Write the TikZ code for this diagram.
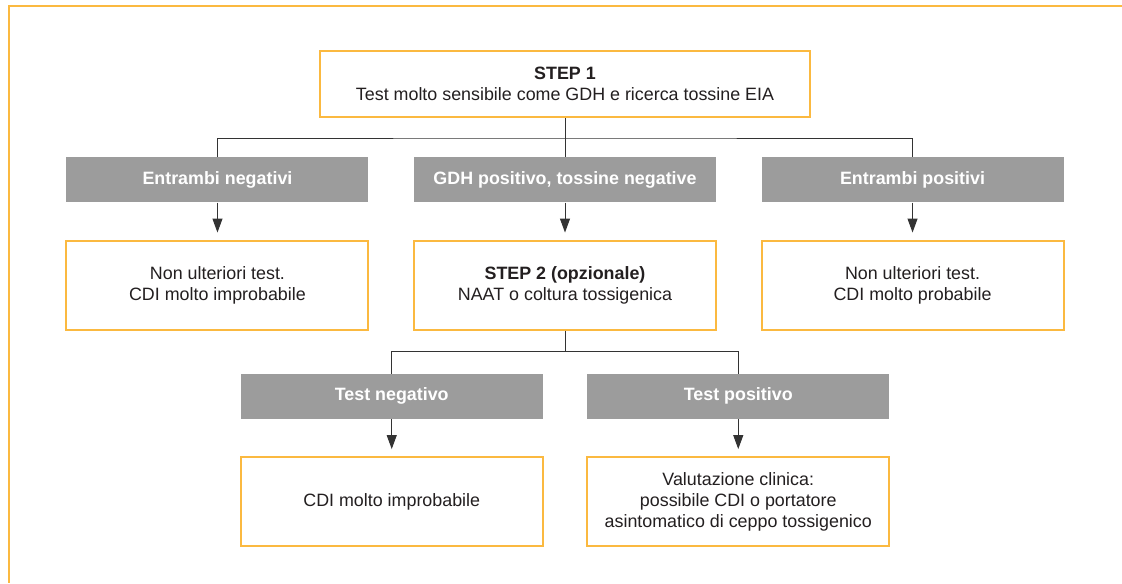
\documentclass[tikz,border=0pt]{standalone}
\usepackage{fontspec}
\setmainfont{Liberation Sans}
\usepackage{tikz}
\usetikzlibrary{positioning,arrows.meta}
\definecolor{boxorange}{HTML}{FBB940}
\definecolor{labelgrey}{HTML}{9C9C9C}
\definecolor{textdark}{HTML}{231F20}
\definecolor{linedark}{HTML}{333333}

\begin{document}
\begin{tikzpicture}[
    >=Stealth,
    node distance=27.75pt,
    stepbox/.style={draw=boxorange, line width=1.5pt, fill=white, align=center,
                    text=textdark, font=\fontsize{13.4}{15.8}\selectfont, inner sep=2pt},
    outbox/.style={stepbox, minimum width=226.5pt, minimum height=66.75pt},
    resbox/.style={fill=labelgrey, text=white, minimum width=226.5pt,
                   minimum height=33.75pt, inner sep=2pt,
                   font=\fontsize{13.4}{15.8}\selectfont\bfseries},
    conn/.style={draw=linedark, line width=0.75pt},
    arrow/.style={conn, -{Triangle[length=10.5pt,width=7.5pt]}, shorten >=5.25pt},
]
\useasboundingbox (0,0) rectangle (841.5pt,-437.25pt);

% Outer frame
\draw[boxorange, line width=1.5pt] (841.5pt,-4.5pt) -| (6.4pt,-437.25pt);

% Step 1
\node[stepbox, minimum width=367.5pt, minimum height=49.5pt] (step1)
    at (423.75pt,-63pt) {\textbf{STEP 1}\\Test molto sensibile come GDH e ricerca tossine EIA};

% First results
\node[resbox, below=29.25pt of step1] (gdhpos) {GDH positivo, tossine negative};
\node[resbox, left=33.75pt of gdhpos] (bothneg) {Entrambi negativi};
\node[resbox, right=33.75pt of gdhpos] (bothpos) {Entrambi positivi};

% Outcomes
\node[outbox, below=of bothneg] (noneg) {Non ulteriori test.\\CDI molto improbabile};
\node[outbox, below=of gdhpos] (step2) {\textbf{STEP 2 (opzionale)}\\NAAT o coltura tossigenica};
\node[outbox, below=of bothpos] (nopos) {Non ulteriori test.\\CDI molto probabile};

% Step 2 results
\node[resbox, anchor=north east] (testneg)
    at ([xshift=-16.5pt, yshift=-32.25pt]step2.south) {Test negativo};
\node[resbox, anchor=north west] (testpos)
    at ([xshift=16.5pt, yshift=-32.25pt]step2.south) {Test positivo};
\node[outbox, below=of testneg] (cdiunl) {CDI molto improbabile};
\node[outbox, below=of testpos] (clinic)
    {Valutazione clinica:\\possibile CDI o portatore\\asintomatico di ceppo tossigenico};

% Branches
\coordinate[below=15pt of step1.south] (split1);
\draw[conn] (bothneg.north) |- (split1) -| (bothpos.north);
\draw[conn] (step1) -- (gdhpos);
\coordinate[below=16pt of step2.south] (split2);
\draw[conn] (testneg.north) |- (split2) -| (testpos.north);
\draw[conn] (step2) -- (split2);

% Arrows
\draw[arrow] (bothneg) -- (noneg);
\draw[arrow] (gdhpos) -- (step2);
\draw[arrow] (bothpos) -- (nopos);
\draw[arrow] (testneg) -- (cdiunl);
\draw[arrow] (testpos) -- (clinic);

\end{tikzpicture}
\end{document}
